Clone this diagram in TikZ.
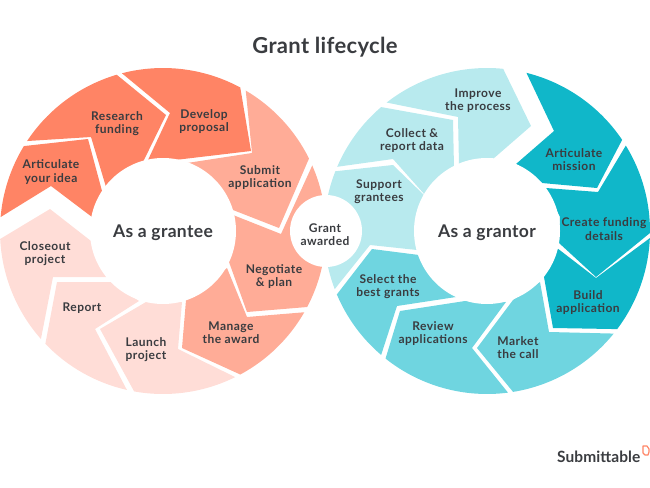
\documentclass[tikz,border=0pt]{standalone}
\usepackage{fontspec}
\setmainfont{Lato}
\usetikzlibrary{positioning}
\definecolor{coraldark}{HTML}{FF8465}
\definecolor{coralmid}{HTML}{FFAC97}
\definecolor{corallight}{HTML}{FFDDD7}
\definecolor{tealdark}{HTML}{10B7C9}
\definecolor{tealmid}{HTML}{6FD5E0}
\definecolor{teallight}{HTML}{B8EAEE}
\definecolor{inkgrey}{HTML}{3A3C40}
\tikzset{
    phase/.style={font=\fontsize{12}{13.2}\selectfont\bfseries\addfontfeature{LetterSpace=4},text=inkgrey,align=center,inner sep=0pt,yshift=-1pt},
    hub/.style={font=\fontsize{17.5}{19}\selectfont\bfseries\addfontfeature{LetterSpace=2},text=inkgrey,inner sep=0pt,yshift=-2pt},
}

\begin{document}
\begin{tikzpicture}[x=1pt,y=-1pt]
    \useasboundingbox (0,0) rectangle (650,487);
    \coordinate (lc) at (163,231);
    \coordinate (rc) at (487,231);

    % as a grantee
    \fill[coraldark] (lc) ++(184.9:163) arc (184.9:211.4:163) -- (88,139) -- (102,191) -- (92,217) -- (51,186) -- cycle;
    \fill[coraldark] (lc) ++(213.5:163) arc (213.5:253.5:163) -- (166,115) -- (143,162) -- (106,187) -- (91,137) -- cycle;
    \fill[coraldark] (lc) ++(255.4:163) arc (255.4:298.3:163) -- (251,151) -- (175,160) -- (148,160) -- (170,113) -- cycle;
    \fill[coralmid] (lc) ++(300.5:163) arc (300.5:333.6:163) -- (279,228) -- (233,210) -- (187,163) -- (252,153) -- cycle;
    \fill[coralmid] (lc) ++(336.3:163) arc (336.3:387.8:163) -- (247,312) -- (229,262) -- (233,215) -- (281,234) -- cycle;
    \fill[coralmid] (lc) ++(29.9:163) arc (29.9:61.7:163) -- (182,348) -- (186,300) -- (227,268) -- (247,317) -- cycle;
    \fill[corallight] (lc) ++(63.7:163) arc (63.7:100.2:163) -- (100,329) -- (146,302) -- (182,302) -- (178,349) -- cycle;
    \fill[corallight] (lc) ++(102.8:163) arc (102.8:136.2:163) -- (57,282) -- (111,282) -- (139,301) -- (95,329) -- cycle;
    \fill[corallight] (lc) ++(138.5:163) arc (138.5:177.2:163) -- (50,209) -- (91,241) -- (106,277) -- (53,277) -- cycle;

    % as a grantor
    \fill[tealdark] (rc) ++(-76:163) arc (-76:-34:163) -- (597,188) -- (542,183) -- (516,164) -- (554,131) -- cycle;
    \fill[tealdark] (rc) ++(-31.6:163) arc (-31.6:0.7:163) -- (596,277) -- (559,243) -- (560,217) -- (546,188) -- (598,192) -- cycle;
    \fill[tealdark] (rc) ++(2.5:163) arc (2.5:37:163) -- (553,328) -- (544,277) -- (557,248) -- (596,278) -- cycle;
    \fill[tealmid] (rc) ++(39:163) arc (39:80.8:163) -- (477,348) -- (513,300) -- (540,282) -- (549,332) -- cycle;
    \fill[tealmid] (rc) ++(82.6:163) arc (82.6:128.5:163) -- (400,311) -- (465,301) -- (506,302) -- (472,348) -- cycle;
    \fill[tealmid] (rc) ++(130.5:163) arc (130.5:157.1:163) -- (372,249) -- (419,255) -- (456,297) -- (397,306) -- cycle;
    \fill[teallight] (rc) ++(159.1:163) arc (159.1:201.5:163) -- (393,165) -- (424,195) -- (417,250) -- (370,245) -- cycle;
    \fill[teallight] (rc) ++(203.2:163) arc (203.2:229.5:163) -- (453,120) -- (454,168) -- (425,195) -- (393,159) -- cycle;
    \fill[teallight] (rc) ++(232:163) arc (232:275.7:163) -- (531,126) -- (493,159) -- (459,165) -- (458,117) -- cycle;

    % holes
    \fill[white] (lc) circle (73);
    \fill[white] (rc) circle (73);
    \fill[white] (326,231) circle (36);

    \node[font=\fontsize{22}{26}\selectfont\bfseries\addfontfeature{LetterSpace=1.5},text=inkgrey,yshift=-2pt] (title) at (325,45) {Grant lifecycle};
    \node[hub] (grantee) at (lc) {As a grantee};
    \node[hub] (grantor) at (rc) {As a grantor};
    \node[phase] (awarded) at (325,233.5) {Grant\\awarded};

    \node[phase] (idea) at (51,171) {Articulate\\your idea};
    \node[phase] (research) at (117,122.5) {Research\\funding};
    \node[phase] (develop) at (204,120.5) {Develop\\proposal};
    \node[phase] (submit) at (260,176.5) {Submit\\application};
    \node[phase] (negotiate) at (274,275.5) {Negotiate\\\& plan};
    \node[phase] (manage) at (231,331.5) {Manage\\the award};
    \node[phase] (launch) at (146,349) {Launch\\project};
    \node[phase] (report) at (82,307) {Report};
    \node[phase] (closeout) at (45,253) {Closeout\\project};

    \node[phase] (mission) at (574,158.5) {Articulate\\mission};
    \node[phase] (funding) at (604,228) {Create funding\\details};
    \node[phase] (build) at (588,301.5) {Build\\application};
    \node[phase] (market) at (518,346.5) {Market\\the call};
    \node[phase] (review) at (433,332.5) {Review\\applications};
    \node[phase] (select) at (388,285.5) {Select the\\best grants};
    \node[phase] (support) at (379,190.5) {Support\\grantees};
    \node[phase] (collect) at (412,139.5) {Collect \&\\report data};
    \node[phase] (improve) at (478,99.5) {Improve\\the process};

    % logo
    \node[font=\fontsize{15.5}{18}\selectfont\bfseries\addfontfeature{LetterSpace=0.5},text=inkgrey,anchor=west,inner sep=0pt,yshift=-1pt] (logo) at (557,456) {Submittable};
    \draw[coraldark,line width=1.2pt,line join=round] (643,446) -- (643,453) -- (645,455) -- (648,455) -- (649,452) -- (649,449) -- (647,446) -- cycle;
\end{tikzpicture}
\end{document}
